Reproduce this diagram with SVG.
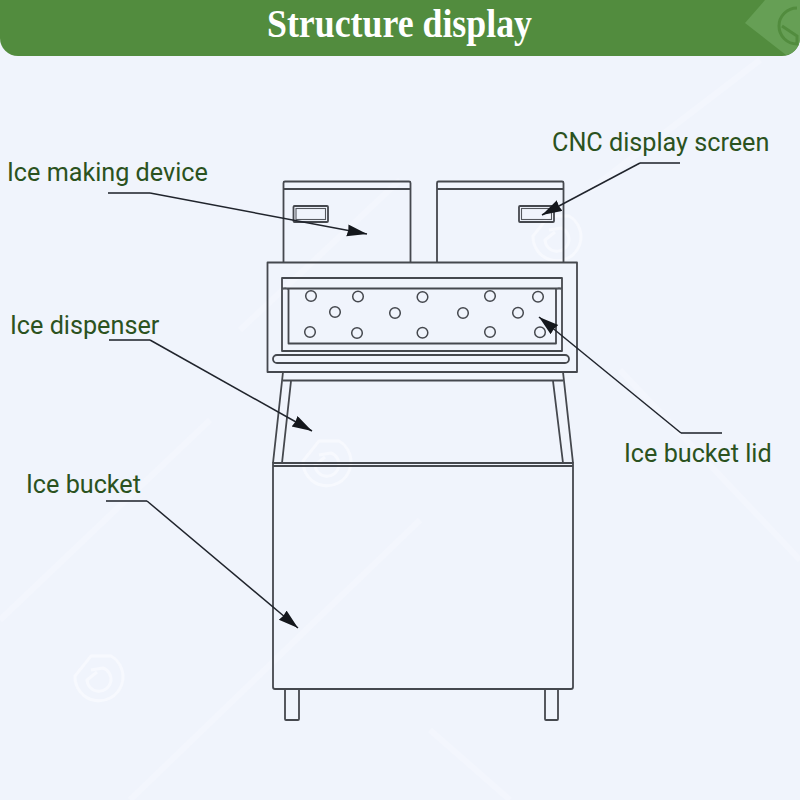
<svg xmlns="http://www.w3.org/2000/svg" width="800" height="800" viewBox="0 0 800 800">
<style>
.m{fill:none;stroke:#45484e;stroke-width:1.8;stroke-linejoin:round}
.t{fill:none;stroke:#55585e;stroke-width:1.1}
.c{fill:none;stroke:#45484e;stroke-width:1.5}
.l{fill:none;stroke:#20242c;stroke-width:1.5;stroke-linejoin:round}
.u{fill:none;stroke:#50545c;stroke-width:1.8}
.lab{font-family:Roboto,"Liberation Sans",sans-serif;font-size:25.200px;fill:#2b5220}
.wm{fill:none;stroke:#f7f9fe;stroke-width:3;stroke-linejoin:round}
.dg{fill:none;stroke:#f3f6fd;stroke-width:6}
</style>
<defs>
<marker id="ah" markerUnits="userSpaceOnUse" markerWidth="22" markerHeight="14" refX="20" refY="6" orient="auto">
<path d="M0 0 L20 6 L0 12 L1 6 Z" fill="#14171c"/>
</marker>
<g id="logo"><path d="M-6 -24 L14 -24 A24 24 0 1 1 -22 -4 Z"/><path d="M-6 -10 L6 -12 A12 12 0 1 1 -10 0 L0 -8"/></g>
</defs>
<rect width="800" height="800" fill="#f0f4fc"/>
<g id="background-watermark">
<path class="dg" d="M0 620 L210 420 M130 800 L420 520 M430 730 L510 800 M620 370 L800 560 M400 180 L240 330 M590 190 L760 60"/>
<use href="#logo" class="wm" x="555" y="240"/>
<use href="#logo" class="wm" x="325" y="465"/>
<use href="#logo" class="wm" x="97" y="680"/>
</g>
<g id="banner">
<path d="M0 0 H800 V38 A18 18 0 0 1 782 56 H18 A18 18 0 0 1 0 38 Z" fill="#528c3e"/>
<path d="M765 0 H800 V38 A18 18 0 0 1 786 55 L745 23 Z" fill="#669f55"/>
<path d="M797 8 A17 17 0 1 0 797 44 L797 36 L782 26" fill="none" stroke="#528c3e" stroke-width="3"/>
<text x="399.500" y="37" text-anchor="middle" textLength="265" lengthAdjust="spacingAndGlyphs" font-family="'Liberation Serif','Times New Roman',serif" font-weight="700" font-size="39" fill="#fff">Structure display</text>
</g>
<g id="ice-making-device">
<path class="m" d="M283.500 262.500 V183 Q283.500 181.500 285 181.500 H409 Q410.500 181.500 410.500 183 V262.500"/>
<path class="m" d="M283.500 189 H410.500"/>
<rect class="m" x="293.500" y="206" width="34.500" height="16" rx="1"/>
<rect class="t" x="296" y="208.500" width="29.500" height="11"/>
</g>
<g id="cnc-display-screen">
<path class="m" d="M437 262.500 V183 Q437 181.500 438.500 181.500 H562 Q563.500 181.500 563.500 183 V262.500"/>
<path class="m" d="M437 189 H563.500"/>
<rect class="m" x="519" y="206" width="35" height="16" rx="1"/>
<rect class="t" x="521.500" y="208.500" width="30" height="11"/>
</g>
<g id="ice-bucket-lid">
<rect class="m" x="267.500" y="262.500" width="309.500" height="109.500"/>
<rect class="m" x="282" y="278" width="280" height="73"/>
<path class="m" d="M282 288.500 H562"/>
<path class="m" d="M288.500 288.500 V343.500 H556 V288.500"/>
<path class="t" d="M282 290 Q285 286 288.500 290 M556 290 Q559 286 562 290"/>
<rect class="m" x="273" y="355" width="296" height="8" rx="4"/>
<g class="c">
<circle cx="311" cy="296" r="5.300"/><circle cx="358" cy="296.500" r="5.300"/><circle cx="422.500" cy="297" r="5.300"/><circle cx="490" cy="296" r="5.300"/><circle cx="538" cy="296.700" r="5.300"/>
<circle cx="335" cy="312" r="5.300"/><circle cx="395" cy="313" r="5.300"/><circle cx="463" cy="313" r="5.300"/><circle cx="518" cy="312.700" r="5.300"/>
<circle cx="310" cy="332" r="5.300"/><circle cx="357" cy="333" r="5.300"/><circle cx="422.500" cy="332.700" r="5.300"/><circle cx="490" cy="332" r="5.300"/><circle cx="540" cy="332.300" r="5.300"/>
</g>
</g>
<g id="ice-dispenser">
<path class="m" d="M283 372 L273 463 M291 381 L282 463 M563 372 L573 463 M553 381 L563 463 M283 380.500 H563"/>
</g>
<g id="ice-bucket">
<path class="m" d="M273 463 H573 V687 Q573 689 571 689 H275 Q273 689 273 687 Z"/>
<path class="m" d="M273 466 H573"/>
<path class="m" d="M285 689 V719 Q285 720 286 720 H298 Q299 720 299 719 V689"/>
<path class="m" d="M545 689 V719 Q545 720 546 720 H557 Q558 720 558 719 V689"/>
</g>
<g id="connectors">
<path class="u" d="M108 193 H150"/><path class="l" marker-end="url(#ah)" d="M150 193 L367 234"/>
<path class="u" d="M680 163 H640"/><path class="l" marker-end="url(#ah)" d="M640 163 L542 215"/>
<path class="u" d="M109 340 H150"/><path class="l" marker-end="url(#ah)" d="M150 340 L312 431"/>
<path class="u" d="M722 433 H681"/><path class="l" marker-end="url(#ah)" d="M681 433 L539 317"/>
<path class="u" d="M106 501 H147"/><path class="l" marker-end="url(#ah)" d="M147 501 L298 628"/>
</g>
<g id="labels">
<text class="lab" x="7" y="181">Ice making device</text>
<text class="lab" x="552" y="151">CNC display screen</text>
<text class="lab" x="10" y="334">Ice dispenser</text>
<text class="lab" x="624" y="462">Ice bucket lid</text>
<text class="lab" x="26" y="493">Ice bucket</text>
</g>
</svg>
